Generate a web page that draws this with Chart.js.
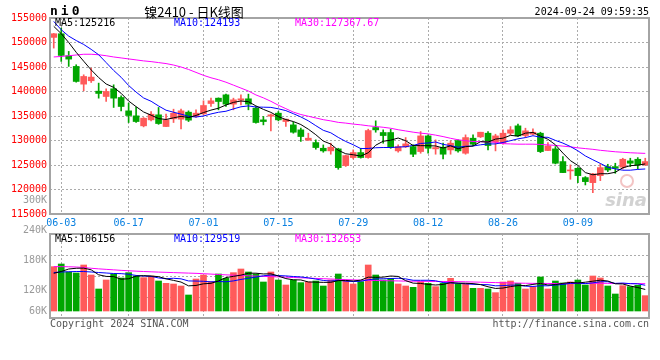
<!DOCTYPE html>
<html>
<head>
<meta charset="utf-8">
<script src="https://cdn.jsdelivr.net/npm/chart.js@4.4.1/dist/chart.umd.min.js"></script>
<style>
  html, body { margin: 0; padding: 0; background: #fff; }
  #wrap { position: relative; width: 660px; height: 360px; }
  #wrap canvas { position: absolute; left: 0; top: 0; }
</style>
</head>
<body>
<div id="wrap">
  <canvas id="kChart" width="660" height="360"></canvas>
  <canvas id="volChart" width="660" height="360"></canvas>
</div>
<script>
var dates = ['05-31','06-03','06-04','06-05','06-06','06-07','06-11','06-12','06-13','06-14',
  '06-17','06-18','06-19','06-20','06-21','06-24','06-25','06-26','06-27','06-28',
  '07-01','07-02','07-03','07-04','07-05','07-08','07-09','07-10','07-11','07-12',
  '07-15','07-16','07-17','07-18','07-19','07-22','07-23','07-24','07-25','07-26',
  '07-29','07-30','07-31','08-01','08-02','08-05','08-06','08-07','08-08','08-09',
  '08-12','08-13','08-14','08-15','08-16','08-19','08-20','08-21','08-22','08-23',
  '08-26','08-27','08-28','08-29','08-30','09-02','09-03','09-04','09-05','09-06',
  '09-09','09-10','09-11','09-12','09-13','09-18','09-19','09-20','09-23','09-24'];

var dateTicks = ['06-03','06-17','07-01','07-15','07-29','08-12','08-26','09-09'];

var openP = [151040,151790,147300,145120,141500,142190,140070,138980,140550,138780,
  136050,135030,132990,134210,135240,132850,134420,134350,135780,134900,
  135440,137550,138640,139320,137420,138230,138510,136600,134210,134960,
  135580,133870,133190,132170,130060,129580,128420,127880,128290,124880,
  126520,127540,126520,132650,131630,131630,127880,128700,128760,127740,
  130940,128290,128630,128080,129990,127400,130470,130740,131490,129650,
  129450,131490,132990,131010,131280,131490,127950,128290,125700,123790,
  124330,122430,121400,122830,124670,124670,124540,125840,126170,125020];

var highP = [151850,152950,148180,145460,143410,144770,141710,140550,141370,139120,
  137620,136800,134690,135920,136740,135370,136390,136390,136050,136260,
  138100,138640,138700,139460,138640,139320,139460,136940,134900,135370,
  135920,134350,133740,132510,131490,130130,129100,129450,128420,127000,
  128080,128420,132310,134010,132170,132310,129100,130600,129100,131830,
  131150,130130,129450,129920,130130,131150,131150,131690,131830,131280,
  132170,132850,133330,132510,132370,131690,129580,128760,126720,125020,
  124470,122630,123310,125220,125150,125360,126380,126380,126510,126380];

var lowP = [148860,146140,145120,141900,140140,141840,138640,137960,136740,136050,
  133670,133670,132780,134010,133300,132800,133670,132370,133870,134690,
  135240,136940,136260,136940,136260,137280,136260,133530,133190,131970,
  134010,132850,131490,129790,130060,128220,127610,127200,124130,124700,
  126240,126400,126380,131690,129450,128400,127610,128560,126720,127400,
  127400,127200,126240,127200,127610,127200,128970,130600,128080,127880,
  129240,131150,130810,130600,131150,127540,127950,125220,123450,122090,
  121400,120930,119360,121810,123650,123310,124200,124670,124200,124880];

var closeP = [151790,147360,146610,142050,143070,142940,139600,140010,138640,136940,
  135100,133870,134550,135370,133460,134210,135580,136050,134150,135580,
  137140,138100,137960,137420,138300,138510,137420,133670,133870,135240,
  134210,134350,131690,130810,130470,128560,127880,128630,124470,126920,
  127540,126520,132030,132170,131010,128560,128760,129310,127200,130940,
  128420,128560,127200,129450,127880,130600,129240,131690,128970,130940,
  131490,132170,130940,131970,131690,127740,128900,125360,123450,123990,
  122830,121610,123180,124470,123990,124330,126170,125360,125020,125700];

var ma5 = [153300,151800,150000,148000,146180,144410,142850,141530,140850,139630,
  138060,136910,135820,135170,134470,134290,134630,134930,134690,135110,
  135700,136200,136590,137240,137780,138060,137920,137060,136350,135740,
  134880,134270,133870,133260,132310,131180,129880,129270,128000,127290,
  127090,126820,127500,129040,129850,130060,130510,129960,128970,128950,
  128930,128890,128460,128910,128300,128740,128870,129770,129680,130290,
  130470,131050,130900,131500,131650,130900,130250,129130,127430,125890,
  124910,123450,123010,123220,123220,123520,124430,124860,124970,125220];

var ma10 = [154300,152600,151300,150400,149600,148600,147500,145900,144300,142900,
  141230,139880,138680,138010,137050,136180,135770,135380,134930,134790,
  135000,135420,135760,135970,136450,136880,137060,136830,136800,136760,
  136470,136100,135470,134810,134020,133030,132080,131570,130630,129800,
  129130,128350,128380,128520,128570,128570,128660,128730,129000,129400,
  129490,129700,129210,128940,128630,128830,128880,129120,129300,129300,
  129600,129960,130340,130590,130970,130680,130650,130020,129470,128770,
  127900,126850,126070,125320,124550,124210,123940,123940,124100,124190];

var ma30 = [147050,147150,147300,147450,147600,147600,147500,147300,147050,146850,
  146650,146450,146250,146100,145900,145700,145400,145000,144500,143900,
  143300,142800,142400,141900,141300,140700,140100,139300,138700,138000,
  137200,136500,135800,135300,134950,134600,134250,134000,133700,133550,
  133350,133200,133000,132850,132700,132500,132200,131950,131700,131500,
  131350,131100,130800,130450,130150,129950,129800,129750,129700,129650,
  129350,129300,129250,129250,129250,129200,129100,129000,128850,128700,
  128500,128350,128200,128000,127850,127700,127600,127500,127430,127370];

var volume = [166700,172000,156000,154000,170000,150000,122000,140000,152000,144000,
  154700,148000,144700,148000,138000,133300,132000,128000,110000,142000,
  150000,136700,152000,143300,154700,162000,156000,152000,136000,156000,
  140000,130000,140000,134700,136000,138000,128000,140000,152000,138000,
  132000,136700,170000,150000,140000,143300,132000,128000,125300,136700,
  133300,126700,133300,143300,132000,132000,123300,123300,122000,114700,
  136000,138000,133300,122000,126700,146000,122000,138000,134000,136000,
  140000,130000,148000,144000,128000,112000,128700,126700,129300,108700];

var volMa5 = [153300,157000,162000,163500,163700,160400,150400,147200,146800,141600,
  142500,147700,148700,147900,146700,142400,139200,135900,128300,129100,
  132400,133300,138100,144800,147300,149700,153600,153600,152100,152400,
  148000,142800,140400,140100,136100,135700,135300,135300,138800,139200,
  138000,139700,145700,145300,145700,148000,147100,138700,133700,133100,
  131100,130000,131100,134700,133700,133500,132800,130800,126500,123100,
  123900,126800,128800,128800,131200,133200,130000,130900,133300,135200,
  134000,135600,137600,139600,138000,132400,132100,127900,124900,121100];

var volMa10 = [155000,156000,156500,157000,157000,156000,155000,154000,153000,152700,
  151500,149100,147900,147300,144100,142500,143500,142300,138100,137900,
  137400,136300,137000,136500,138200,141100,143500,145900,148500,149900,
  148900,148200,147000,146100,144300,141900,139100,137900,139500,137700,
  136900,137500,140500,142100,142500,143000,143400,142200,139500,139400,
  139500,138500,134900,134200,133400,132300,131400,130900,130600,128400,
  128700,129800,129800,127700,127100,128500,128400,129900,131100,133200,
  133600,132800,134300,136500,136600,133200,133900,132700,132300,129500];

var volMa30 = [166700,166700,166500,166000,165000,163500,162300,161300,160300,159300,
  158500,157700,157000,156400,155800,155300,154800,154300,153800,153300,
  152600,151800,151000,150300,149600,149000,148400,147800,147200,146700,
  146200,145600,145000,144400,143800,143200,142600,142000,141300,140700,
  140200,139700,139300,139000,138700,138400,138100,137800,137600,137400,
  137200,137100,137000,136900,136700,136400,136000,135600,135200,134800,
  134400,134100,133800,133500,133300,133200,133100,133000,133000,133100,
  133200,133300,133400,133400,133300,133100,133000,132900,132800,132650];

var volTickValues = [60000, 120000, 180000, 240000, 300000];

var priceLegend = ['MA5:125216', 'MA10:124193', 'MA30:127367.67'];
var volLegend = ['MA5:106156', 'MA10:129519', 'MA30:132653'];
var titleCode = 'ni0';
var titleName = '镍2410 - 日K线图';
var stamp = '2024-09-24 09:59:35';

document.addEventListener('DOMContentLoaded', function () {
  var FONT = '"DejaVu Sans Mono", "Liberation Mono", monospace';
  var UP = '#ff5a5a', DOWN = '#00a600';
  var GRID = '#ababab';
  var lineColors = ['#000000', '#0000ff', '#ff00ff'];

  var idx = dates.map(function (d, i) { return i; });
  var tickIdx = dateTicks.map(function (d) { return dates.indexOf(d); });

  function candleColor(c) {
    var i = c.dataIndex;
    return closeP[i] >= openP[i] ? UP : DOWN;
  }
  function pts(arr) {
    return idx.map(function (i) { return {x: i, y: arr[i]}; });
  }
  function maLine(arr, color) {
    return {type: 'line', data: pts(arr), borderColor: color, borderWidth: 1,
      pointRadius: 0, tension: 0, order: 0};
  }
  function xAxis(showLabels) {
    return {
      type: 'linear', min: -0.5, max: dates.length - 0.5, offset: false,
      afterBuildTicks: function (s) { s.ticks = tickIdx.map(function (v) { return {value: v}; }); },
      afterFit: function (s) { s.height = showLabels ? 16 : 0; },
      grid: {color: GRID, drawTicks: false, offset: false},
      border: {display: false, dash: [2, 2]},
      ticks: {display: showLabels, autoSkip: false, maxRotation: 0, padding: 3,
        color: '#0a80e0', font: {family: FONT, size: 10},
        callback: function (v) { return dates[v]; }}
    };
  }
  function frame(chart) {
    var ctx = chart.ctx, a = chart.chartArea;
    ctx.save();
    ctx.strokeStyle = '#a4a4a4';
    ctx.lineWidth = 2;
    ctx.strokeRect(a.left, a.top, a.right - a.left, a.bottom - a.top);
    ctx.restore();
  }
  function legend(ctx, texts, y) {
    var xs = [55, 174, 295];
    ctx.font = '10px ' + FONT;
    ctx.textAlign = 'left';
    ctx.textBaseline = 'middle';
    texts.forEach(function (t, k) {
      ctx.fillStyle = lineColors[k];
      ctx.fillText(t, xs[k], y);
    });
  }

  var kDecor = {
    id: 'kDecor',
    beforeDatasetsDraw: function (chart) {
      var ctx = chart.ctx, a = chart.chartArea;
      ctx.save();
      ctx.strokeStyle = '#f3c4c4';
      ctx.lineWidth = 2;
      ctx.beginPath();
      ctx.arc(a.right - 22, a.bottom - 33, 6, 0, Math.PI * 2);
      ctx.stroke();
      ctx.fillStyle = '#d2d2d2';
      ctx.font = 'italic bold 18px "DejaVu Sans"';
      ctx.textAlign = 'right';
      ctx.textBaseline = 'alphabetic';
      ctx.fillText('sina', a.right - 2, a.bottom - 8);
      ctx.restore();
    },
    afterDraw: function (chart) {
      var ctx = chart.ctx;
      frame(chart);
      ctx.save();
      ctx.fillStyle = '#000';
      ctx.textBaseline = 'middle';
      ctx.font = 'bold 13px ' + FONT;
      ctx.textAlign = 'left';
      ctx.letterSpacing = '3px';
      ctx.fillText(titleCode, 50, 12);
      ctx.letterSpacing = '0px';
      ctx.font = '13px "Noto Sans CJK SC"';
      ctx.textAlign = 'center';
      ctx.fillText(titleName, 194, 12);
      ctx.font = '10px ' + FONT;
      ctx.textAlign = 'right';
      ctx.fillText(stamp, 649, 12);
      legend(ctx, priceLegend, 23);
      ctx.restore();
    }
  };

  var volDecor = {
    id: 'volDecor',
    afterDraw: function (chart) {
      var ctx = chart.ctx, a = chart.chartArea, ys = chart.scales.y;
      frame(chart);
      ctx.save();
      legend(ctx, volLegend, 239);
      ctx.font = '10px ' + FONT;
      ctx.fillStyle = '#9a9a9a';
      ctx.textAlign = 'right';
      ctx.textBaseline = 'middle';
      volTickValues.forEach(function (v) {
        var y = Math.min(ys.getPixelForValue(v), a.bottom - 7);
        ctx.fillText(v / 1000 + 'K', 47, y);
      });
      ctx.fillStyle = '#555';
      ctx.textAlign = 'left';
      ctx.fillText('Copyright 2024 SINA.COM', 50, 324);
      ctx.textAlign = 'right';
      ctx.fillText('http://finance.sina.com.cn', 649, 324);
      ctx.restore();
    }
  };

  new Chart(document.getElementById('kChart').getContext('2d'), {
    type: 'bar',
    data: {
      datasets: [
        maLine(ma5, lineColors[0]),
        maLine(ma10, lineColors[1]),
        maLine(ma30, lineColors[2]),
        {
          data: idx.map(function (i) { return {x: i, y: [openP[i], closeP[i]]}; }),
          backgroundColor: candleColor, barThickness: 6, minBarLength: 1,
          grouped: false, order: 1
        },
        {
          data: idx.map(function (i) { return {x: i, y: [lowP[i], highP[i]]}; }),
          backgroundColor: candleColor, barThickness: 1,
          grouped: false, order: 2
        }
      ]
    },
    options: {
      responsive: false, animation: false, devicePixelRatio: 1, events: [],
      layout: {padding: {top: 18, right: 11, bottom: 130, left: 0}},
      plugins: {legend: {display: false}, tooltip: {enabled: false}},
      scales: {
        x: xAxis(true),
        y: {
          min: 115000, max: 155000,
          afterFit: function (s) { s.width = 50; },
          grid: {color: GRID, drawTicks: false},
          border: {display: false, dash: [2, 2]},
          ticks: {stepSize: 5000, padding: 3, color: '#ff0000',
            font: {family: FONT, size: 10},
            callback: function (v) { return String(v); }}
        }
      }
    },
    plugins: [kDecor]
  });

  new Chart(document.getElementById('volChart').getContext('2d'), {
    type: 'bar',
    data: {
      datasets: [
        maLine(volMa5, lineColors[0]),
        maLine(volMa10, lineColors[1]),
        maLine(volMa30, lineColors[2]),
        {
          data: pts(volume), base: 78000,
          backgroundColor: candleColor, barThickness: 6,
          grouped: false, order: 1
        }
      ]
    },
    options: {
      responsive: false, animation: false, devicePixelRatio: 1, events: [],
      layout: {padding: {top: 234, right: 11, bottom: 42, left: 0}},
      plugins: {legend: {display: false}, tooltip: {enabled: false}},
      scales: {
        x: xAxis(false),
        y: {
          min: 64000, max: 232000,
          afterFit: function (s) { s.width = 50; },
          grid: {color: GRID, drawTicks: false},
          border: {display: false, dash: [2, 2]},
          ticks: {display: false, stepSize: 42000}
        }
      }
    },
    plugins: [volDecor]
  });
});
</script>
</body>
</html>
